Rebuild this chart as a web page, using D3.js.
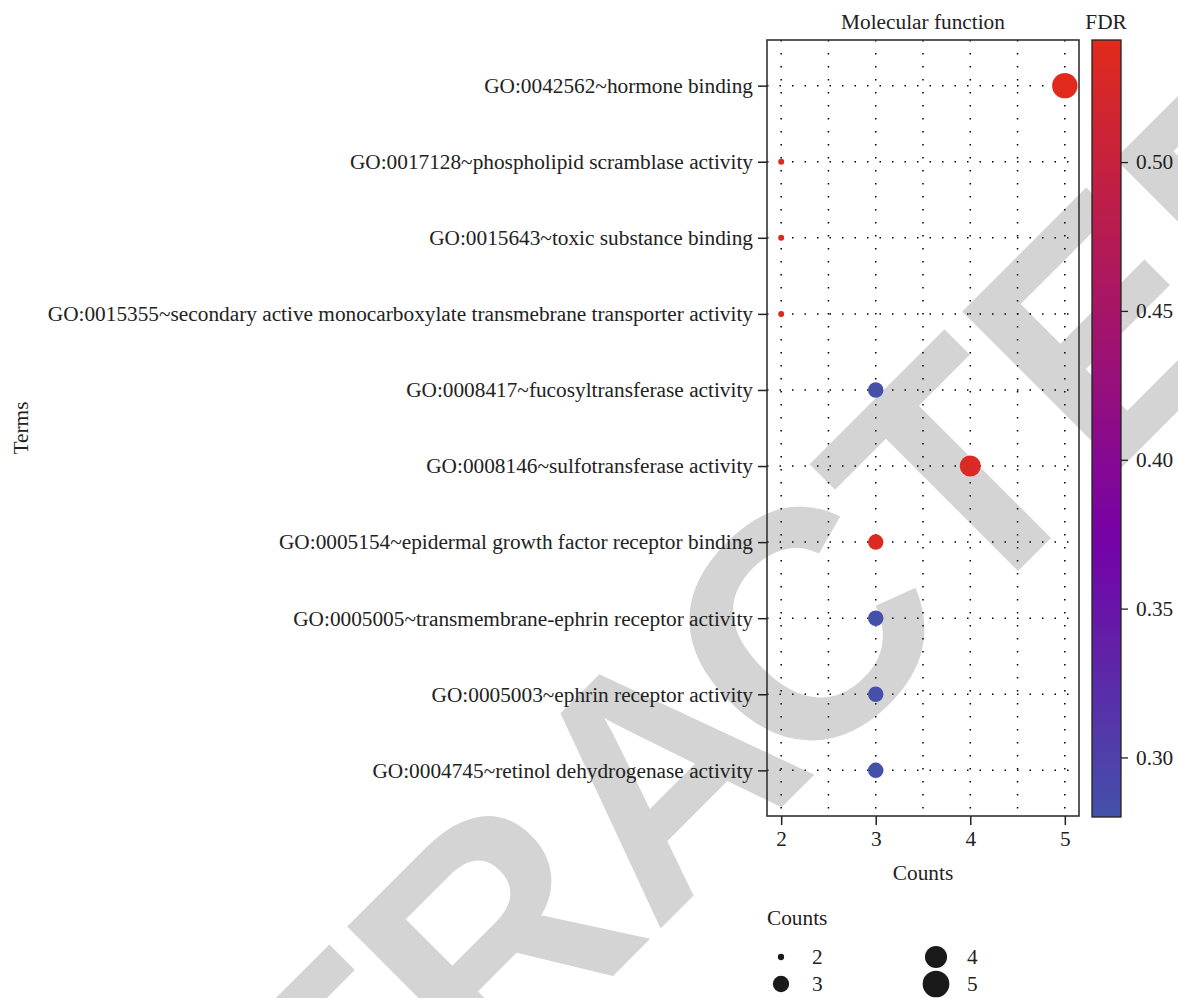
<!DOCTYPE html>
<html><head><meta charset="utf-8">
<script src="https://cdn.jsdelivr.net/npm/d3@7"></script>
<style>body{margin:0;background:#fff}</style>
</head><body>
<svg id="c" width="1178" height="998"></svg>
<script>
// ---- data ----
const terms = [
  "GO:0042562~hormone binding",
  "GO:0017128~phospholipid scramblase activity",
  "GO:0015643~toxic substance binding",
  "GO:0015355~secondary active monocarboxylate transmebrane transporter activity",
  "GO:0008417~fucosyltransferase activity",
  "GO:0008146~sulfotransferase activity",
  "GO:0005154~epidermal growth factor receptor binding",
  "GO:0005005~transmembrane-ephrin receptor activity",
  "GO:0005003~ephrin receptor activity",
  "GO:0004745~retinol dehydrogenase activity"
];
const counts = [5, 2, 2, 2, 3, 4, 3, 3, 3, 3];
const fdr = [0.541, 0.537, 0.537, 0.537, 0.281, 0.533, 0.535, 0.281, 0.281, 0.280];
const xTicks = [2, 3, 4, 5];
const xGrid = [2, 2.5, 3, 3.5, 4, 4.5, 5];
const fdrTicks = [0.30, 0.35, 0.40, 0.45, 0.50];
const legendCounts = [2, 3, 4, 5];
const panelTitle = "Molecular function";
const xTitle = "Counts";
const yTitle = "Terms";
const colorTitle = "FDR";
const sizeTitle = "Counts";
const watermarkParts = ["RETRA", "CTED"];

// ---- layout ----
const svg = d3.select("#c");
const P = {l: 767, r: 1079, t: 40, b: 816};
const serif = "'Liberation Serif', 'DejaVu Serif', serif";
const fs = "21.3px";
const ink = "#222";

// watermark (behind everything)
const wm = svg.append("text")
  .attr("transform", "translate(727,862) rotate(-45)")
  .attr("text-anchor", "middle")
  .style("font-family", "'Liberation Sans', Arial, sans-serif")
  .style("font-weight", "bold")
  .style("font-size", "324px")
  .style("fill", "#d4d4d4");
wm.append("tspan").text(watermarkParts[0]);
wm.append("tspan").attr("dx", -30).text(watermarkParts[1]);

const x = d3.scaleLinear().domain([1.85, 5.15]).range([P.l, P.r]);
const y = d3.scalePoint().domain(terms).range([P.t, P.b]).padding(0.6);
const fdrExt = d3.extent(fdr);
const color = d3.scaleLinear()
  .domain([fdrExt[0], 0.372, fdrExt[1]])
  .range(["#4451a9", "#7402a8", "#e02b1c"])
  .interpolate(d3.interpolateRgb);
const rArea = d3.scaleLinear().domain([2, 5]).range([9, 162]);
const r = v => Math.sqrt(rArea(v));

// grid
const g = svg.append("g");
g.selectAll(".vg").data(xGrid).join("line")
  .attr("x1", d => x(d)).attr("x2", d => x(d))
  .attr("y1", P.t).attr("y2", P.b)
  .attr("stroke", "#000").attr("stroke-width", 1.5)
  .attr("stroke-dasharray", "1.5,11.5");
g.selectAll(".hg").data(terms).join("line")
  .attr("x1", P.l).attr("x2", P.r)
  .attr("y1", d => y(d)).attr("y2", d => y(d))
  .attr("stroke", "#000").attr("stroke-width", 1.5)
  .attr("stroke-dasharray", "1.5,11");

// points
const pts = terms.map((t, i) => ({t, c: counts[i], f: fdr[i]}));
svg.append("g").selectAll("circle").data(pts).join("circle")
  .attr("cx", d => x(d.c)).attr("cy", d => y(d.t))
  .attr("r", d => r(d.c))
  .attr("fill", d => color(d.f));

// panel border
svg.append("rect").attr("x", P.l).attr("y", P.t)
  .attr("width", P.r - P.l).attr("height", P.b - P.t)
  .attr("fill", "none").attr("stroke", "#333").attr("stroke-width", 1.6);

// axes
const xAxis = d3.axisBottom(x).tickValues(xTicks).tickFormat(d3.format("d")).tickSize(9).tickPadding(6);
const xa = svg.append("g").attr("transform", `translate(0,${P.b})`).call(xAxis);
xa.select(".domain").remove();
xa.selectAll("line").attr("stroke", ink).attr("stroke-width", 1.5);
xa.selectAll("text").style("font-family", serif).style("font-size", fs).attr("fill", ink);

const yAxis = d3.axisLeft(y).tickSize(9).tickPadding(5);
const ya = svg.append("g").attr("transform", `translate(${P.l},0)`).call(yAxis);
ya.select(".domain").remove();
ya.selectAll("line").attr("stroke", ink).attr("stroke-width", 1.5);
ya.selectAll("text").style("font-family", serif).style("font-size", fs).attr("fill", ink);

// titles
svg.append("text").attr("x", (P.l + P.r) / 2).attr("y", 29).attr("text-anchor", "middle")
  .style("font-family", serif).style("font-size", fs).attr("fill", ink).text(panelTitle);
svg.append("text").attr("x", (P.l + P.r) / 2).attr("y", 880).attr("text-anchor", "middle")
  .style("font-family", serif).style("font-size", fs).attr("fill", ink).text(xTitle);
svg.append("text").attr("transform", `translate(28,${(P.t + P.b) / 2}) rotate(-90)`).attr("text-anchor", "middle")
  .style("font-family", serif).style("font-size", fs).attr("fill", ink).text(yTitle);

// colorbar
const CB = {x: 1092, w: 29};
const yc = d3.scaleLinear().domain(fdrExt).range([817, 40]);
const defs = svg.append("defs");
const lg = defs.append("linearGradient").attr("id", "fdrgrad")
  .attr("x1", 0).attr("y1", 1).attr("x2", 0).attr("y2", 0);
d3.range(0, 1.0001, 0.025).forEach(t => {
  const v = fdrExt[0] + t * (fdrExt[1] - fdrExt[0]);
  lg.append("stop").attr("offset", t).attr("stop-color", color(v));
});
svg.append("rect").attr("x", CB.x).attr("y", 40).attr("width", CB.w).attr("height", 777)
  .attr("fill", "url(#fdrgrad)").attr("stroke", "#222").attr("stroke-width", 1.3);
const cAxis = d3.axisRight(yc).tickValues(fdrTicks).tickFormat(d3.format(".2f")).tickSize(7).tickPadding(8);
const ca = svg.append("g").attr("transform", `translate(${CB.x + CB.w},0)`).call(cAxis);
ca.select(".domain").remove();
ca.selectAll("line").attr("stroke", ink).attr("stroke-width", 1.3);
ca.selectAll("text").style("font-family", serif).style("font-size", fs).attr("fill", ink);
svg.append("text").attr("x", 1106).attr("y", 29).attr("text-anchor", "middle")
  .style("font-family", serif).style("font-size", fs).attr("fill", ink).text(colorTitle);

// size legend
svg.append("text").attr("x", 767).attr("y", 925)
  .style("font-family", serif).style("font-size", fs).attr("fill", ink).text(sizeTitle);
const legPos = legendCounts.map((c, i) => ({c, col: Math.floor(i / 2), row: i % 2}));
const lgX = d3.scaleOrdinal().domain([0, 1]).range([781, 936]);
const lgY = d3.scaleOrdinal().domain([0, 1]).range([957, 984]);
const lgItems = svg.append("g").selectAll("g").data(legPos).join("g")
  .attr("transform", d => `translate(${lgX(d.col)},${lgY(d.row)})`);
lgItems.append("circle").attr("r", d => r(d.c) * 1.05).attr("fill", "#1a1a1a");
lgItems.append("text").attr("x", 31).attr("dy", "0.35em")
  .style("font-family", serif).style("font-size", fs).attr("fill", ink).text(d => d.c);
</script>
</body></html>
